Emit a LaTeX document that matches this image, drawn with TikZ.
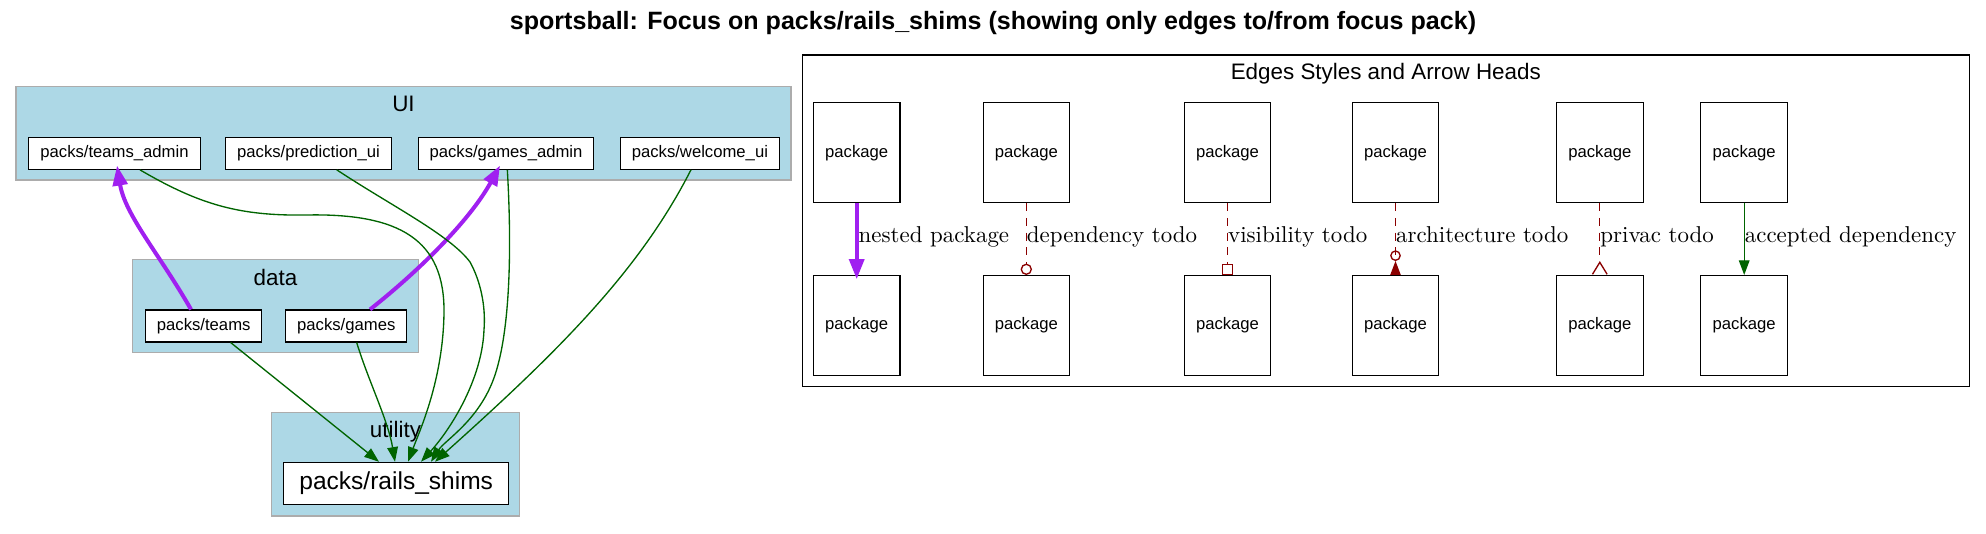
\documentclass[tikz,border=0pt]{standalone}
\usepackage{fontspec}
\newfontfamily\graphfont{Liberation Sans}
\newfontfamily\labelfont{lmroman10-regular.otf}
\usetikzlibrary{arrows.meta}

\definecolor{clusterblue}{HTML}{ADD8E6}
\definecolor{nestpurple}{HTML}{A020F0}
\definecolor{depgreen}{HTML}{006400}
\definecolor{tododark}{HTML}{8B0000}

\begin{document}
\begin{tikzpicture}[x=0.75pt, y=-0.75pt,
    pack/.style={draw=black, line width=0.8pt, fill=white, font=\graphfont\fontsize{12.5}{14}\selectfont, inner xsep=8.6pt, inner ysep=0pt, minimum height=24pt},
    focuspack/.style={pack, font=\graphfont\fontsize{18.4}{21}\selectfont, inner xsep=11.7pt, minimum height=31.5pt},
    legendpack/.style={pack, inner xsep=0pt, minimum width=64.9pt, minimum height=75pt},
    cluster/.style={draw=gray!65, line width=1pt, fill=clusterblue},
    clusterlabel/.style={font=\graphfont\fontsize{16.8}{19}\selectfont, anchor=base, inner sep=0pt},
    nested/.style={draw=nestpurple, line width=3pt, -{Triangle[length=15pt,width=11pt]}},
    accepted/.style={draw=depgreen, line width=1pt, -{Triangle[length=11pt,width=8pt]}},
    todo/.style={draw=tododark, line width=1pt, dash pattern=on 6pt off 5pt},
    edgelabel/.style={anchor=base west, inner sep=0pt, font=\labelfont\fontsize{17.2}{20}\selectfont}
]
    \useasboundingbox (0,0) rectangle (1986,533);

    \node[font=\graphfont\bfseries\fontsize{18.8}{22}\selectfont, anchor=base] (title) at (993,29)
        {sportsball: Focus on packs/rails\_shims (showing only edges to/from focus pack)};

    % clusters
    \draw[cluster] (16,86.7) rectangle (791,180);
    \node[clusterlabel] (uilabel) at (403.5,111.7) {UI};
    \draw[cluster] (132.7,259.3) rectangle (418.3,352.7);
    \node[clusterlabel] (datalabel) at (275.5,285) {data};
    \draw[cluster] (271.7,412.7) rectangle (519.3,516);
    \node[clusterlabel] (utilitylabel) at (395.5,437.7) {utility};

    \node[pack] (teamsadmin) at (114.5,153.3) {packs/teams\_admin};
    \node[pack] (predictionui) at (308.5,153.3) {packs/prediction\_ui};
    \node[pack] (gamesadmin) at (506,153.3) {packs/games\_admin};
    \node[pack] (welcomeui) at (699.9,153.3) {packs/welcome\_ui};
    \node[pack] (teams) at (203.7,326) {packs/teams};
    \node[pack] (games) at (346.3,326) {packs/games};
    \node[focuspack] (railsshims) at (396.2,483.3) {packs/rails\_shims};

    \draw[nested] ([xshift=-9.5pt]teams.north) .. controls (160,255) and (125,215) .. ([xshift=1.9pt,yshift=3.2pt]teamsadmin.south);
    \draw[nested] ([xshift=17.8pt]games.north) .. controls (420,270) and (470,220) .. ([xshift=-4.5pt,yshift=3.2pt]gamesadmin.south);

    \draw[accepted] ([xshift=20.2pt]teams.south) -- ([xshift=-12.9pt]railsshims.north);
    \draw[accepted] ([xshift=7.8pt]games.south) .. controls (368,380) and (388,420) .. ([xshift=-0.9pt]railsshims.north);
    \draw[accepted] ([xshift=19.1pt]teamsadmin.south) .. controls (200,205) and (240,216) .. (306,215)
        .. controls (400,213) and (445,240) .. (444,313) .. controls (443,380) and (420,430) .. ([xshift=8.85pt]railsshims.north);
    \draw[accepted] ([xshift=21.2pt]predictionui.south) .. controls (390,205) and (450,235) .. (470,262)
        .. controls (480,280) and (486,305) .. (484,330) .. controls (482,380) and (450,430) .. ([xshift=18.6pt]railsshims.north);
    \draw[accepted] ([xshift=1pt]gamesadmin.south) .. controls (512,250) and (510,330) .. (495,375)
        .. controls (480,420) and (445,440) .. ([xshift=26.1pt]railsshims.north);
    \draw[accepted] ([xshift=-6.7pt]welcomeui.south) .. controls (640,270) and (560,350) .. ([xshift=29.1pt]railsshims.north);

    % legend
    \draw[line width=1pt, fill=white] (802.3,55) rectangle (1969.3,386.7);
    \node[clusterlabel] (legendlabel) at (1385.8,79.3) {Edges Styles and Arrow Heads};

    \node[legendpack] (nestTop) at (856.7,152.7) {package};
    \node[legendpack] (nestBot) at (856.7,325.5) {package};
    \node[legendpack] (depTop) at (1026.3,152.7) {package};
    \node[legendpack] (depBot) at (1026.3,325.5) {package};
    \node[legendpack] (visTop) at (1227.5,152.7) {package};
    \node[legendpack] (visBot) at (1227.5,325.5) {package};
    \node[legendpack] (archTop) at (1395.5,152.7) {package};
    \node[legendpack] (archBot) at (1395.5,325.5) {package};
    \node[legendpack] (privTop) at (1599.8,152.7) {package};
    \node[legendpack] (privBot) at (1599.8,325.5) {package};
    \node[legendpack] (accTop) at (1744.2,152.7) {package};
    \node[legendpack] (accBot) at (1744.2,325.5) {package};

    \draw[nested] (nestTop.south) -- ([yshift=-3.2pt]nestBot.north) node[edgelabel, pos=0.512] {nested package};
    \draw[todo, -{Circle[open,length=8.5pt]}] (depTop.south) -- (depBot.north) node[edgelabel, pos=0.542] {dependency todo};
    \draw[todo, -{Square[open,length=8.25pt,width=8.25pt]}] (visTop.south) -- (visBot.north) node[edgelabel, pos=0.542] {visibility todo};
    \draw[todo, -{Circle[open,length=8pt] Triangle[reversed,length=10.5pt,width=7.7pt]}] (archTop.south) -- (archBot.north) node[edgelabel, pos=0.542] {architecture todo};
    \draw[todo, -{Straight Barb[reversed,length=9pt,width=11pt]}] (privTop.south) -- (privBot.north) node[edgelabel, pos=0.542] {privac todo};
    \draw[accepted] (accTop.south) -- (accBot.north) node[edgelabel, pos=0.542] {accepted dependency};
\end{tikzpicture}
\end{document}
